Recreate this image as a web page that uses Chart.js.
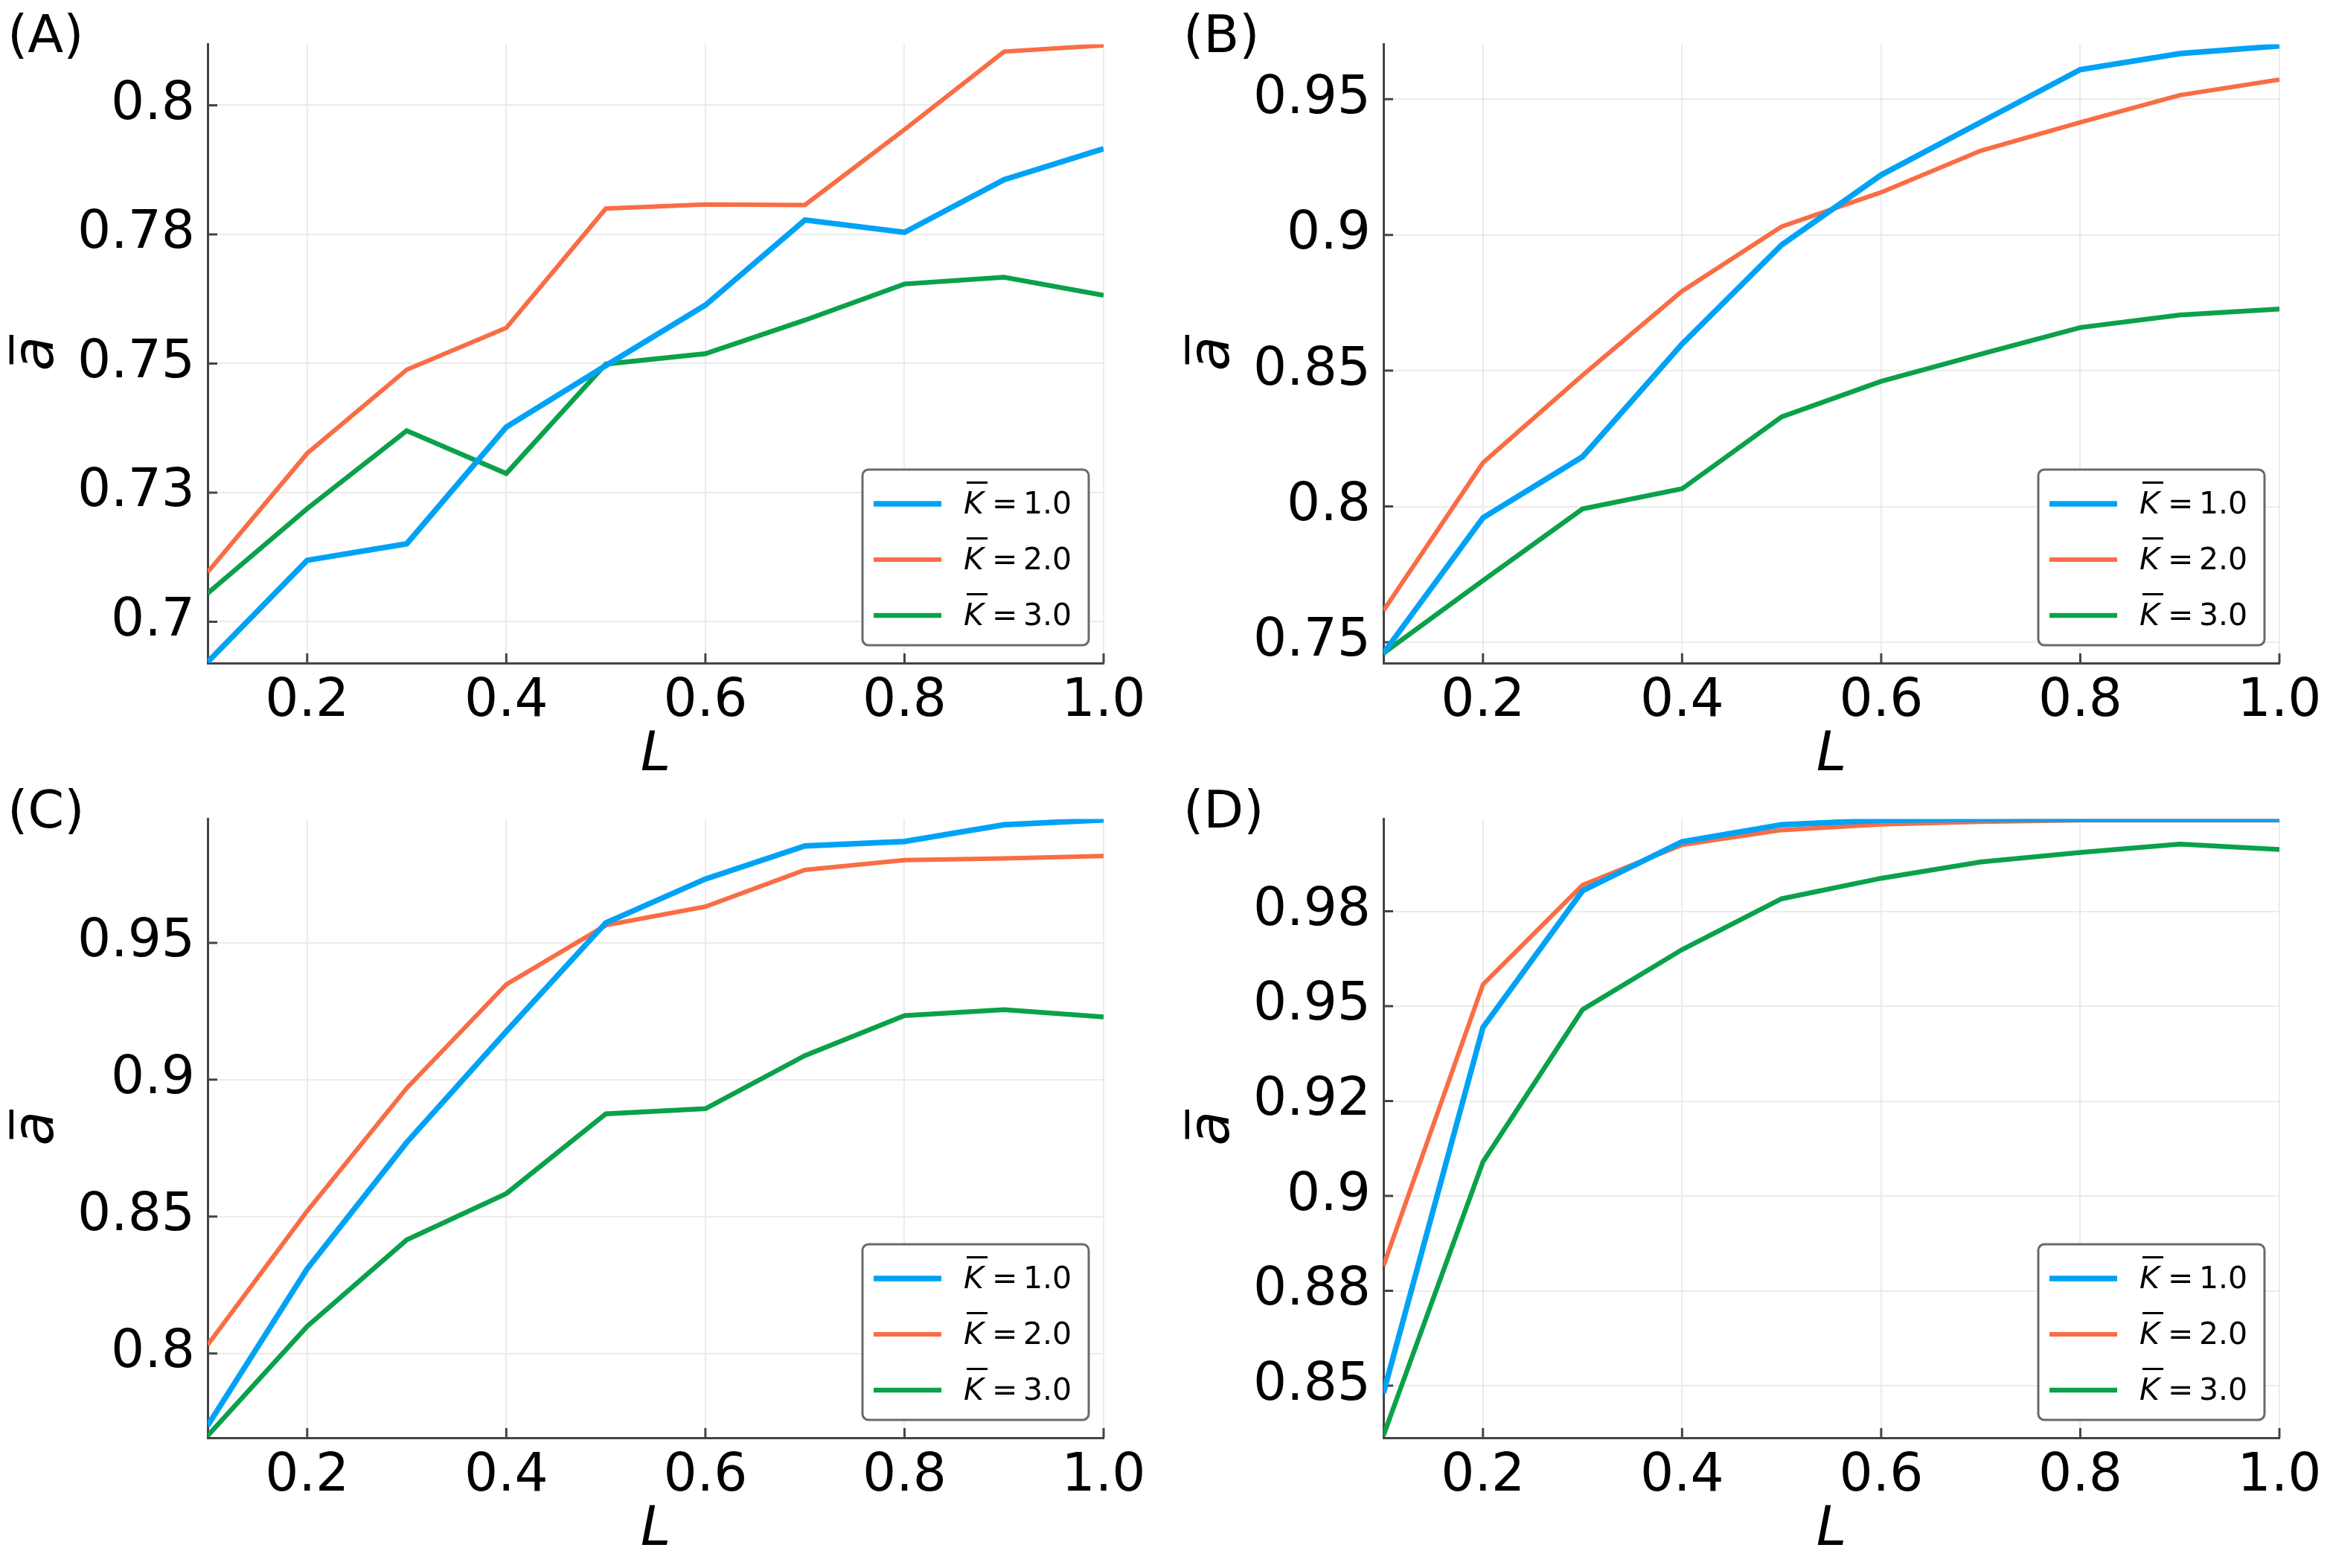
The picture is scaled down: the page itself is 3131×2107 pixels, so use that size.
<!DOCTYPE html>
<html>
<head>
<meta charset="utf-8">
<script src="https://cdn.jsdelivr.net/npm/chart.js@4.4.1/dist/chart.umd.min.js"></script>
<style>
  html, body { margin: 0; padding: 0; background: #fff; }
  body { width: 3131px; height: 2107px; position: relative; overflow: hidden; }
  canvas { position: absolute; }
  .tag { position: absolute; font-family: "DejaVu Sans", sans-serif; font-size: 70px; line-height: 1; color: #000; }
</style>
</head>
<body>
<div class="tag" style="left:10px;top:11px">(A)</div>
<div class="tag" style="left:1590px;top:11px">(B)</div>
<div class="tag" style="left:10px;top:1053px">(C)</div>
<div class="tag" style="left:1590px;top:1053px">(D)</div>
<canvas id="chartA" width="1551" height="1065" style="left:0px;top:0px"></canvas>
<canvas id="chartB" width="1551" height="1065" style="left:1580px;top:0px"></canvas>
<canvas id="chartC" width="1551" height="1065" style="left:0px;top:1041px"></canvas>
<canvas id="chartD" width="1551" height="1065" style="left:1580px;top:1041px"></canvas>
<script>
// L values shared by all panels
const lValues = [0.1, 0.2, 0.3, 0.4, 0.5, 0.6, 0.7, 0.8, 0.9, 1.0];
const kValues = ["1.0", "2.0", "3.0"];
const xTicks = [0.2, 0.4, 0.6, 0.8, 1.0];
const xTickLabels = ["0.2", "0.4", "0.6", "0.8", "1.0"];

// (A)
const aK1 = [0.6922, 0.7119, 0.7151, 0.7377, 0.7496, 0.7613, 0.7778, 0.7754, 0.7856, 0.7916];
const aK2 = [0.7096, 0.7326, 0.7488, 0.7569, 0.7800, 0.7808, 0.7807, 0.7953, 0.8104, 0.8116];
const aK3 = [0.7055, 0.7219, 0.7370, 0.7287, 0.7499, 0.7519, 0.7584, 0.7654, 0.7667, 0.7632];
const aRange = [0.692, 0.8118];
const aYTicks = [0.7, 0.725, 0.75, 0.775, 0.8];
const aYLabels = ["0.7", "0.73", "0.75", "0.78", "0.8"];

// (B)
const bK1 = [0.7459, 0.7958, 0.8183, 0.8598, 0.8963, 0.9221, 0.9415, 0.9609, 0.9668, 0.9696];
const bK2 = [0.7616, 0.8161, 0.8483, 0.8793, 0.9031, 0.9157, 0.9310, 0.9415, 0.9515, 0.9572];
const bK3 = [0.7459, 0.7727, 0.7991, 0.8065, 0.8330, 0.8461, 0.8561, 0.8659, 0.8705, 0.8727];
const bRange = [0.7423, 0.9702];
const bYTicks = [0.75, 0.8, 0.85, 0.9, 0.95];
const bYLabels = ["0.75", "0.8", "0.85", "0.9", "0.95"];

// (C)
const cK1 = [0.7736, 0.8309, 0.8771, 0.9176, 0.9573, 0.9733, 0.9854, 0.9870, 0.9931, 0.9949];
const cK2 = [0.8031, 0.8520, 0.8969, 0.9348, 0.9564, 0.9632, 0.9766, 0.9802, 0.9808, 0.9817];
const cK3 = [0.7699, 0.8099, 0.8415, 0.8584, 0.8875, 0.8894, 0.9088, 0.9234, 0.9256, 0.9229];
const cRange = [0.7692, 0.9952];
const cYTicks = [0.8, 0.85, 0.9, 0.95];
const cYLabels = ["0.8", "0.85", "0.9", "0.95"];

// (D)
const dK1 = [0.8481, 0.9444, 0.9804, 0.9933, 0.9978, 0.9990, 0.9992, 0.9992, 0.9992, 0.9992];
const dK2 = [0.8816, 0.9557, 0.9819, 0.9925, 0.9964, 0.9979, 0.9986, 0.9990, 0.9990, 0.9990];
const dK3 = [0.8369, 0.9090, 0.9491, 0.9649, 0.9783, 0.9837, 0.9880, 0.9905, 0.9927, 0.9913];
const dRange = [0.8363, 0.9993];
const dYTicks = [0.85, 0.875, 0.9, 0.925, 0.95, 0.975];
const dYLabels = ["0.85", "0.88", "0.9", "0.92", "0.95", "0.98"];

const colors = ["#00a2f5", "#f96d45", "#0aa14a"];
const widths = [7.5, 6, 6.5];
const FONT = "DejaVu Sans";

// small inward tick marks on both axes
const innerTicks = {
  id: "innerTicks",
  beforeDatasetsDraw(chart) {
    const { ctx, chartArea, scales } = chart;
    ctx.save();
    ctx.strokeStyle = "#444";
    ctx.lineWidth = 3;
    ctx.beginPath();
    scales.x.ticks.forEach((t) => {
      const px = scales.x.getPixelForValue(t.value);
      ctx.moveTo(px, chartArea.bottom);
      ctx.lineTo(px, chartArea.bottom - 13);
    });
    scales.y.ticks.forEach((t) => {
      const py = scales.y.getPixelForValue(t.value);
      ctx.moveTo(chartArea.left, py);
      ctx.lineTo(chartArea.left + 13, py);
    });
    ctx.stroke();
    ctx.restore();
  },
};

// legend box in the lower right corner of the plot
const boxLegend = {
  id: "boxLegend",
  afterDatasetsDraw(chart) {
    const { ctx, chartArea: ca } = chart;
    const w = 304, h = 236;
    const x0 = ca.right - 20 - w;
    const y0 = ca.bottom - 24 - h;
    ctx.save();
    ctx.beginPath();
    ctx.roundRect(x0, y0, w, h, 8);
    ctx.fillStyle = "#fff";
    ctx.fill();
    ctx.lineWidth = 3;
    ctx.strokeStyle = "#6a6a6a";
    ctx.stroke();
    chart.data.datasets.forEach((ds, i) => {
      const cy = y0 + 46 + i * 75;
      ctx.beginPath();
      ctx.moveTo(x0 + 15, cy);
      ctx.lineTo(x0 + 106, cy);
      ctx.strokeStyle = ds.borderColor;
      ctx.lineWidth = ds.borderWidth;
      ctx.stroke();
      const tx = x0 + 136, base = cy + 13;
      ctx.fillStyle = "#000";
      ctx.textBaseline = "alphabetic";
      ctx.font = `italic 41px "${FONT}"`;
      ctx.fillText("K", tx, base);
      ctx.fillRect(tx + 4, cy - 30, 28, 3);
      ctx.font = `41px "${FONT}"`;
      ctx.fillText("=", tx + 38, base);
      ctx.fillText(ds.kValue, tx + 80, base);
    });
    ctx.restore();
  },
};

function renderPanel(id, series, range, yTicks, yLabels) {
  const datasets = series.map((values, i) => ({
    label: `K̄ = ${kValues[i]}`,
    kValue: kValues[i],
    data: values.map((v, j) => ({ x: lValues[j], y: v })),
    borderColor: colors[i],
    borderWidth: widths[i],
    pointRadius: 0,
    tension: 0,
    fill: false,
  }));

  new Chart(document.getElementById(id), {
    type: "line",
    data: { datasets },
    plugins: [innerTicks, boxLegend],
    options: {
      responsive: false,
      animation: false,
      devicePixelRatio: 1,
      layout: { padding: { left: 0, top: 58, right: 68, bottom: 5 } },
      plugins: { legend: { display: false }, tooltip: { enabled: false } },
      scales: {
        x: {
          type: "linear",
          min: 0.1,
          max: 1.0,
          afterBuildTicks: (s) => { s.ticks = xTicks.map((v) => ({ value: v })); },
          afterFit: (s) => { s.height = 169; },
          ticks: {
            autoSkip: false,
            maxRotation: 0,
            padding: 10,
            color: "#000",
            font: { family: FONT, size: 71 },
            callback: (v, i) => xTickLabels[i],
          },
          grid: { color: "#ebebeb", lineWidth: 2, drawTicks: false },
          border: { display: true, color: "#444", width: 3 },
          title: {
            display: true,
            text: "L",
            color: "#000",
            padding: 0,
            font: { family: FONT, size: 73, style: "italic", lineHeight: 1.2 },
          },
        },
        y: {
          min: range[0],
          max: range[1],
          afterBuildTicks: (s) => { s.ticks = yTicks.map((v) => ({ value: v })); },
          afterFit: (s) => { s.width = 279; },
          ticks: {
            autoSkip: false,
            padding: 17,
            color: "#000",
            font: { family: FONT, size: 71 },
            callback: (v, i) => yLabels[i],
          },
          grid: { color: "#ebebeb", lineWidth: 2, drawTicks: false },
          border: { display: true, color: "#444", width: 3 },
          title: {
            display: true,
            text: "a\u0305",
            color: "#000",
            padding: { top: 6, bottom: 0 },
            font: { family: FONT, size: 76, style: "italic", lineHeight: 1.2 },
          },
        },
      },
    },
  });
}

renderPanel("chartA", [aK1, aK2, aK3], aRange, aYTicks, aYLabels);
renderPanel("chartB", [bK1, bK2, bK3], bRange, bYTicks, bYLabels);
renderPanel("chartC", [cK1, cK2, cK3], cRange, cYTicks, cYLabels);
renderPanel("chartD", [dK1, dK2, dK3], dRange, dYTicks, dYLabels);
</script>
</body>
</html>
